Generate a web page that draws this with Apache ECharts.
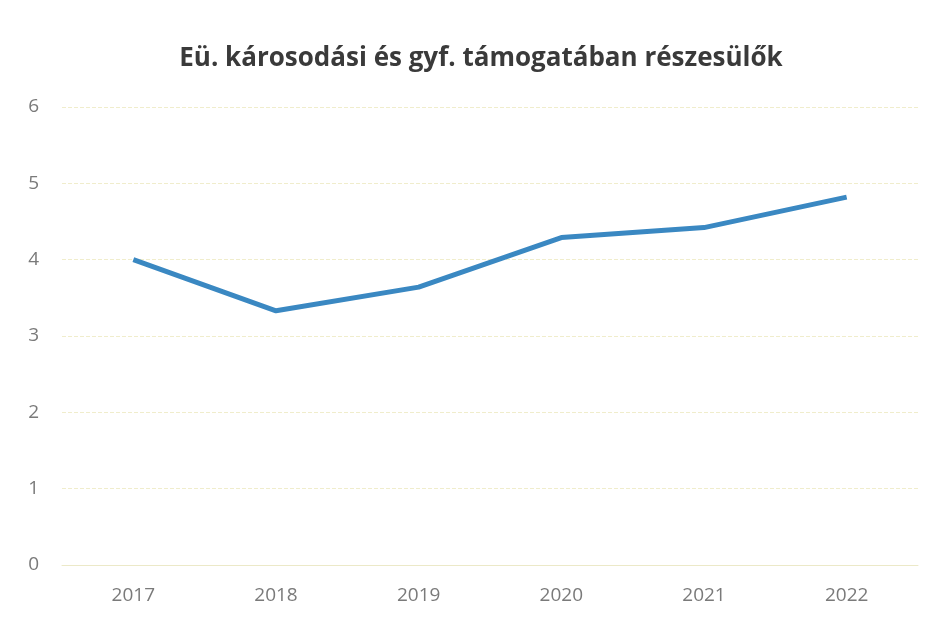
<!DOCTYPE html>
<html>
<head>
<meta charset="utf-8">
<script src="https://cdn.jsdelivr.net/npm/echarts@6/dist/echarts.min.js"></script>
<style>html,body{margin:0;padding:0;background:#fff;}#c{width:940px;height:619px;}</style>
</head>
<body>
<div id="c"></div>
<script>
const titleText = 'Eü. károsodási és gyf. támogatában részesülők';
const categories = ['2017', '2018', '2019', '2020', '2021', '2022'];
const values = [4.0, 3.33, 3.64, 4.29, 4.42, 4.82];
const yTicks = [0, 1, 2, 3, 4, 5, 6];

const chart = echarts.init(document.getElementById('c'));
chart.setOption({
  backgroundColor: '#fff',
  animation: false,
  title: {
    text: titleText,
    left: 476,
    textAlign: 'center',
    top: 41,
    textStyle: { fontFamily: '"Open Sans", "DejaVu Sans", sans-serif', fontSize: 26, fontWeight: 'bold', color: '#3a3a3a' }
  },
  grid: { left: 62, right: 22, top: 107, bottom: 54 },
  xAxis: {
    type: 'category',
    data: categories,
    boundaryGap: true,
    axisLine: { show: true, lineStyle: { color: '#ece9c8', width: 1 } },
    axisTick: { show: false },
    axisLabel: { color: '#7a7a7a', fontSize: 19, margin: 21, fontFamily: '"Open Sans", sans-serif' }
  },
  yAxis: {
    type: 'value',
    min: yTicks[0],
    max: yTicks[yTicks.length - 1],
    interval: 1,
    axisLine: { show: false },
    axisTick: { show: false },
    axisLabel: { color: '#7a7a7a', fontSize: 19, margin: 23, fontFamily: '"Open Sans", sans-serif' },
    splitLine: { lineStyle: { color: '#f0edcc', width: 1, type: 'dashed' } }
  },
  series: [{
    type: 'line',
    data: values,
    symbol: 'none',
    lineStyle: { color: '#3a88c2', width: 5 },
    itemStyle: { color: '#3a88c2' }
  }]
});
</script>
</body>
</html>
